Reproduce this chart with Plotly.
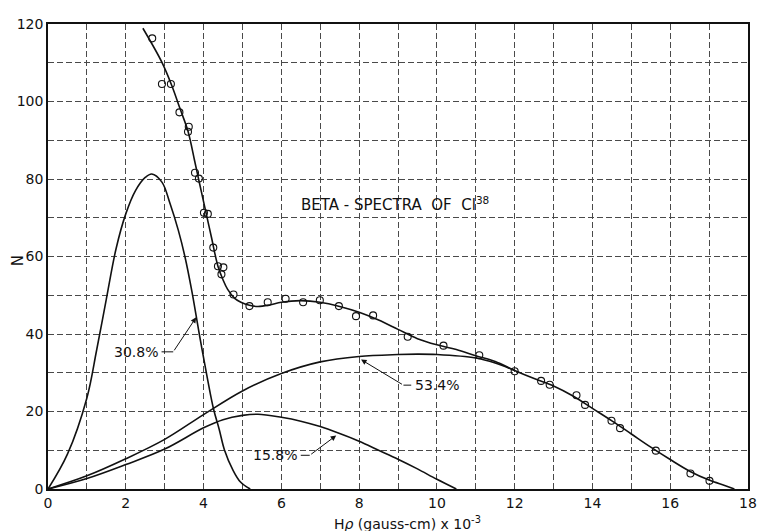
import plotly.graph_objects as go

# ---- data ----
obs_x = [2.68, 2.93, 3.16, 3.38, 3.62, 3.60, 3.78, 3.88, 4.01, 4.11, 4.25, 4.37, 4.51,
         4.46, 4.77, 5.18, 5.65, 6.11, 6.56, 6.99, 7.48, 7.92, 8.36,
         9.25, 10.17, 11.09, 12.00, 12.68, 12.90, 13.59, 13.81, 14.49, 14.71,
         15.63, 16.52, 17.01]
obs_y = [116.3, 104.5, 104.5, 97.2, 93.5, 92.2, 81.6, 80.1, 71.3, 71.0, 62.3, 57.5, 57.2,
         55.4, 50.2, 47.2, 48.2, 49.1, 48.2, 48.7, 47.2, 44.6, 44.8,
         39.3, 37.0, 34.5, 30.4, 27.9, 26.9, 24.2, 21.7, 17.6, 15.7,
         9.9, 4.0, 2.1]

total_x = [2.44, 2.93, 3.18, 3.39, 3.60, 3.77, 3.90, 4.03, 4.20, 4.37, 4.50, 4.62, 4.80,
           4.96, 5.18, 5.40, 5.70, 6.00, 6.50, 7.00, 7.50, 8.00, 8.50, 9.00, 9.50,
           10.00, 10.50, 11.00, 11.50, 12.00, 12.50, 13.00, 13.50, 14.00, 14.50,
           15.00, 15.50, 16.00, 16.50, 17.00, 17.40, 17.65]
total_y = [118.9, 110.1, 104.2, 98.3, 92.3, 84.7, 78.7, 72.8, 65.1, 57.5, 54.0, 51.5, 49.2,
           48.2, 47.4, 47.1, 47.5, 48.2, 48.6, 48.2, 47.1, 45.6, 43.6, 41.2, 38.8,
           37.2, 36.0, 34.4, 32.9, 30.6, 28.5, 26.6, 24.0, 20.8, 17.6,
           14.2, 10.8, 7.6, 4.6, 2.3, 0.9, 0.0]

c308_x = [0, 0.5, 1.0, 1.25, 1.5, 1.75, 2.0, 2.25, 2.5, 2.67,
          2.93, 3.14, 3.35, 3.52, 3.70, 3.89, 4.10, 4.26, 4.40, 4.54, 4.75, 4.95, 5.2]
c308_y = [0, 9.0, 23.5, 35.8, 49.0, 62.0, 71.0, 77.0, 80.4, 81.3,
          79.2, 73.6, 66.8, 60.0, 51.0, 40.0, 28.5, 20.5, 15.5, 10.0, 5.0, 1.8, 0]

c158_x = [0, 1, 2, 3, 4, 4.5, 5.0, 5.4, 6.0, 6.5, 7.0, 7.5, 8.0, 8.5, 9.0, 9.5, 10.0, 10.5]
c158_y = [0, 2.7, 6.3, 10.3, 15.8, 17.9, 19.0, 19.3, 18.5, 17.5, 16.1, 14.3, 12.3, 10.0,
          7.7, 5.2, 2.5, 0]

c534_x = [0, 1, 2, 3, 4, 5, 6, 7, 8, 9, 9.5, 10, 11, 11.5, 12]
c534_y = [0, 3.4, 7.8, 12.8, 19.2, 25.3, 29.8, 32.8, 34.2, 34.7, 34.8, 34.7, 33.8, 32.5, 30.6]

x_ticks = [0, 2, 4, 6, 8, 10, 12, 14, 16, 18]
y_ticks = [0, 20, 40, 60, 80, 100, 120]

# labels: text, text anchor point, bend point, arrow tip (data units)
pct_labels = ["30.8%", "15.8%", "53.4%"]
pct_anchor = [(2.87, 35.4, "right"), (6.45, 8.7, "right"), (9.39, 26.8, "left")]
pct_bend = [(3.22, 35.4), (6.73, 8.7), (9.14, 26.8)]
pct_tip = [(3.81, 44.3), (7.41, 13.8), (8.05, 33.4)]

title_text = "BETA - SPECTRA&nbsp;&nbsp;OF&nbsp;&nbsp;Cl<sup>38</sup>"
xlabel = "H<i>ρ</i> (gauss-cm) x 10<sup>-3</sup>"
ylabel = "N"

FONT = "DejaVu Sans"
INK = "#111111"
GRID = "#4a4a4a"

fig = go.Figure()
for xs, ys in [(c308_x, c308_y), (c158_x, c158_y), (c534_x, c534_y), (total_x, total_y)]:
    fig.add_trace(go.Scatter(x=xs, y=ys, mode="lines",
                             line=dict(color=INK, width=1.6, shape="spline", smoothing=1.0),
                             hoverinfo="skip", showlegend=False))
fig.add_trace(go.Scatter(x=obs_x, y=obs_y, mode="markers",
                         marker=dict(symbol="circle-open", size=7, color=INK,
                                     line=dict(width=1.1, color=INK)),
                         showlegend=False))

annotations = []
shapes = []
for txt, (ax_, ay_, anc), (bx, by), (tx, ty) in zip(pct_labels, pct_anchor, pct_bend, pct_tip):
    annotations.append(dict(x=ax_, y=ay_, xref="x", yref="y", text=txt, showarrow=False,
                            xanchor=anc, yanchor="middle",
                            font=dict(family=FONT, size=14, color=INK)))
    shapes.append(dict(type="line", xref="x", yref="y",
                       x0=ax_ + (0.05 if anc == "right" else -0.05),
                       y0=ay_, x1=bx, y1=by, line=dict(color=INK, width=1)))
    annotations.append(dict(x=tx, y=ty, xref="x", yref="y", ax=bx, ay=by, axref="x", ayref="y",
                            text="", showarrow=True, arrowhead=2, arrowsize=1.1,
                            arrowwidth=1, arrowcolor=INK))

annotations.append(dict(x=8.93, y=73.6, xref="x", yref="y", text=title_text, showarrow=False,
                        xanchor="center", yanchor="middle",
                        font=dict(family=FONT, size=15, color=INK)))
annotations.append(dict(x=9.25, y=0, xref="x", yref="paper", text=xlabel, showarrow=False,
                        xanchor="center", yanchor="middle", yshift=-34,
                        font=dict(family=FONT, size=14, color=INK)))
annotations.append(dict(x=0, y=0.49, xref="paper", yref="paper", text=ylabel, showarrow=False,
                        xanchor="center", yanchor="middle", xshift=-30, textangle=-90,
                        font=dict(family=FONT, size=15, color=INK)))

grid = dict(showgrid=True, gridcolor=GRID, gridwidth=1, griddash="6px,3px")

# the page body has an 8px margin, so the figure is sized to fit the window
fig.update_layout(
    width=757, height=523,
    margin=dict(l=40, r=8, t=10, b=42),
    paper_bgcolor="white", plot_bgcolor="white",
    annotations=annotations, shapes=shapes,
    xaxis=dict(range=[0, 18], tickvals=x_ticks, ticktext=[str(v) for v in x_ticks],
               ticks="", showline=True, mirror=True, linecolor=INK, linewidth=1.5,
               zeroline=False, tickfont=dict(family=FONT, size=14, color=INK),
               minor=dict(dtick=1, tick0=0, showgrid=True, gridcolor=GRID,
                          gridwidth=1, griddash="6px,3px"),
               **grid),
    yaxis=dict(range=[0, 120], tickvals=y_ticks, ticktext=[str(v) for v in y_ticks],
               ticks="", showline=True, mirror=True, linecolor=INK, linewidth=1.5,
               zeroline=False, tickfont=dict(family=FONT, size=14, color=INK),
               minor=dict(dtick=10, tick0=0, showgrid=True, gridcolor=GRID,
                          gridwidth=1, griddash="6px,3px"),
               **grid),
)

fig.write_html("out.html")
